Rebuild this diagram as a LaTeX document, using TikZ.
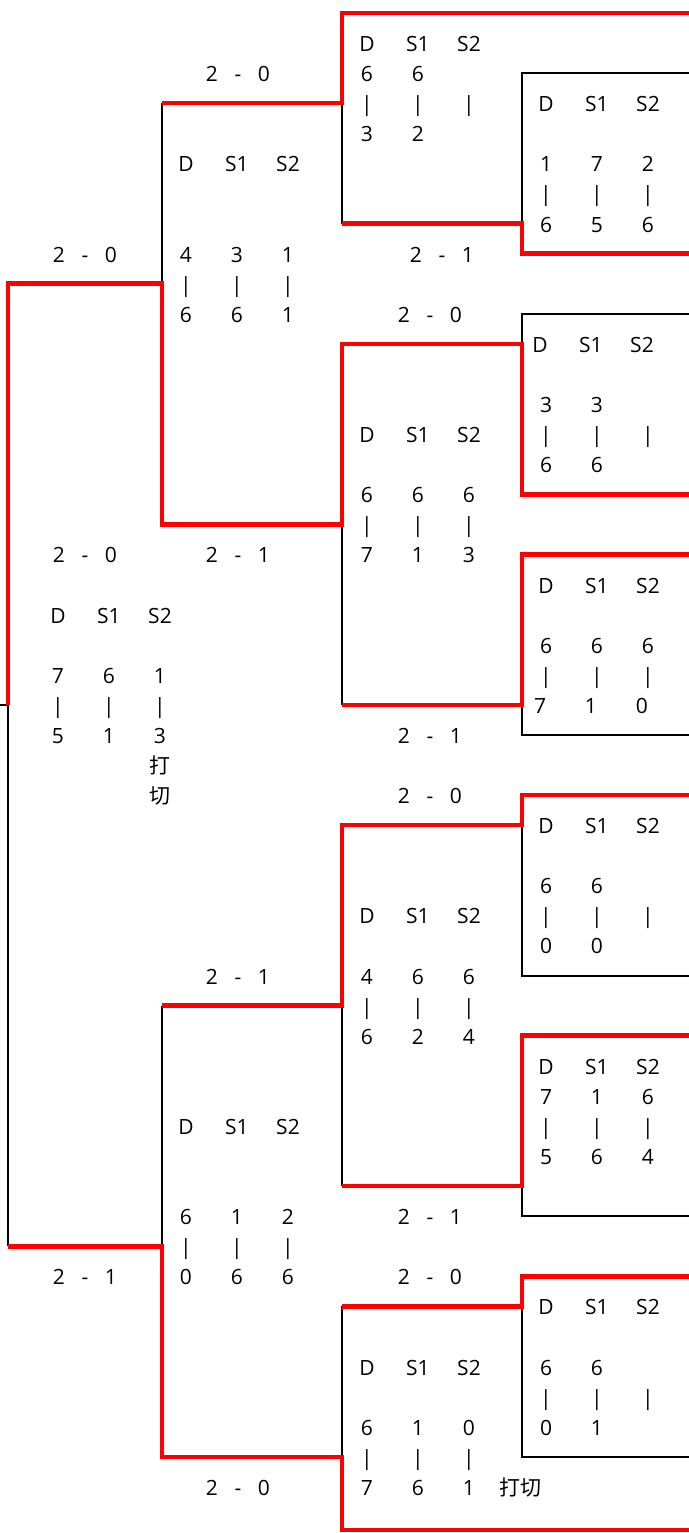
\documentclass[tikz,border=0pt]{standalone}
\usepackage{fontspec}
\setmainfont{Open Sans}
\newfontfamily\cjk{Noto Sans CJK SC}
\usepackage{xcolor}

\newcommand\trio[3]{\makebox[25.5pt]{#1}\makebox[25.5pt]{#2}\makebox[25.5pt]{#3}}
\newcommand\score[2]{\makebox[13pt]{#1}\makebox[13pt]{-}\makebox[13pt]{#2}}

\tikzset{
  win/.style={draw=red, line width=2.25pt},
  lose/.style={draw=black, line width=1pt},
  cell/.style={inner sep=0pt, anchor=base, yshift=-4.25pt, font=\fontsize{10.5}{12}\selectfont},
}

\begin{document}
\begin{tikzpicture}[x=0.5pt, y=-15.04pt]
    \useasboundingbox (0,-0.4322) rectangle (689,50.532);
    \def\xa{8} \def\xb{162} \def\xc{342} \def\xd{522} \def\xe{689}

    % Bracket lines (black)
    \draw[lose] (0,23) -- (\xa,23) -- (\xa,41);
    \draw[lose] (\xb,3) -- (\xb,9);
    \draw[lose] (\xb,33) -- (\xb,41);
    \draw[lose] (\xc,3) -- (\xc,7);
    \draw[lose] (\xc,17) -- (\xc,23);
    \draw[lose] (\xc,33) -- (\xc,39);
    \draw[lose] (\xc,43) -- (\xc,48);
    \draw[lose] (\xe,2) -- (\xd,2) -- (\xd,7);
    \draw[lose] (\xe,10) -- (\xd,10) -- (\xd,11);
    \draw[lose] (\xd,23) -- (\xd,24) -- (\xe,24);
    \draw[lose] (\xd,27) -- (\xd,32) -- (\xe,32);
    \draw[lose] (\xd,39) -- (\xd,40) -- (\xe,40);
    \draw[lose] (\xd,43) -- (\xd,48) -- (\xe,48);

    % Bracket lines (red)
    \draw[win] (\xb,3) -- (\xc,3) -- (\xc,0) -- (\xe,0);
    \draw[win] (\xc,7) -- (\xd,7) -- (\xd,8) -- (\xe,8);
    \draw[win] (\xa,23) -- (\xa,9) -- (\xb,9) -- (\xb,17) -- (\xc,17) -- (\xc,11) -- (\xd,11) -- (\xd,16) -- (\xe,16);
    \draw[win] (\xc,23) -- (\xd,23) -- (\xd,18) -- (\xe,18);
    \draw[win] (\xb,33) -- (\xc,33) -- (\xc,27) -- (\xd,27) -- (\xd,26) -- (\xe,26);
    \draw[win] (\xc,39) -- (\xd,39) -- (\xd,34) -- (\xe,34);
    \draw[win] (\xa,41) -- (\xb,41) -- (\xb,48) -- (\xc,48) -- (\xc,50.43) -- (\xe,50.43);
    \draw[win] (\xc,43) -- (\xd,43) -- (\xd,42) -- (\xe,42);

    % Final
    \node[cell] (fin-w1) at (85,8) {\score{2}{0}};
    \node[cell] (fin-w2) at (85,18) {\score{2}{0}};
    \node[cell] (fin-hd) at (109,20) {\trio{D}{S1}{S2}};
    \node[cell] (fin-1) at (109,22) {\trio{7}{6}{1}};
    \node[cell] (fin-3) at (109,24) {\trio{5}{1}{3}};
    \node[cell] (fin-n1) at (160,25) {\cjk 打};
    \node[cell] (fin-n2) at (160,26) {\cjk 切};
    \node[cell] (fin-w3) at (85,42) {\score{2}{1}};

    % Semi finals
    \node[cell] (sa-w) at (238,2) {\score{2}{0}};
    \node[cell] (sa-hd) at (237,5) {\trio{D}{S1}{S2}};
    \node[cell] (sa-1) at (237,8) {\trio{4}{3}{1}};
    \node[cell] (sa-3) at (237,10) {\trio{6}{6}{1}};
    \node[cell] (sa-l) at (238,18) {\score{2}{1}};
    \node[cell] (sb-w) at (238,32) {\score{2}{1}};
    \node[cell] (sb-hd) at (237,37) {\trio{D}{S1}{S2}};
    \node[cell] (sb-1) at (237,40) {\trio{6}{1}{2}};
    \node[cell] (sb-3) at (237,42) {\trio{0}{6}{6}};
    \node[cell] (sb-l) at (238,49) {\score{2}{0}};

    % Quarter finals
    \node[cell] (qa-hd) at (418,1) {\trio{D}{S1}{S2}};
    \node[cell] (qa-1) at (418,2) {\trio{6}{6}{}};
    \node[cell] (qa-3) at (418,4) {\trio{3}{2}{}};
    \node[cell] (qa-l) at (442,8) {\score{2}{1}};
    \node[cell] (qb-w) at (430,10) {\score{2}{0}};
    \node[cell] (qb-hd) at (418,14) {\trio{D}{S1}{S2}};
    \node[cell] (qb-1) at (418,16) {\trio{6}{6}{6}};
    \node[cell] (qb-3) at (418,18) {\trio{7}{1}{3}};
    \node[cell] (qb-l) at (430,24) {\score{2}{1}};
    \node[cell] (qc-w) at (430,26) {\score{2}{0}};
    \node[cell] (qc-hd) at (418,30) {\trio{D}{S1}{S2}};
    \node[cell] (qc-1) at (418,32) {\trio{4}{6}{6}};
    \node[cell] (qc-3) at (418,34) {\trio{6}{2}{4}};
    \node[cell] (qc-l) at (430,40) {\score{2}{1}};
    \node[cell] (qd-w) at (430,42) {\score{2}{0}};
    \node[cell] (qd-hd) at (418,45) {\trio{D}{S1}{S2}};
    \node[cell] (qd-1) at (418,47) {\trio{6}{1}{0}};
    \node[cell] (qd-3) at (418,49) {\trio{7}{6}{1}};
    \node[cell] (qd-n) at (520,49) {\cjk 打切};

    % First round
    \node[cell] (ra-hd) at (597,3) {\trio{D}{S1}{S2}};
    \node[cell] (ra-1) at (597,5) {\trio{1}{7}{2}};
    \node[cell] (ra-3) at (597,7) {\trio{6}{5}{6}};
    \node[cell] (rb-hd) at (591,11) {\trio{D}{S1}{S2}};
    \node[cell] (rb-1) at (597,13) {\trio{3}{3}{}};
    \node[cell] (rb-3) at (597,15) {\trio{6}{6}{}};
    \node[cell] (rc-hd) at (597,19) {\trio{D}{S1}{S2}};
    \node[cell] (rc-1) at (597,21) {\trio{6}{6}{6}};
    \node[cell] (rc-3) at (591,23) {\trio{7}{1}{0}};
    \node[cell] (rd-hd) at (597,27) {\trio{D}{S1}{S2}};
    \node[cell] (rd-1) at (597,29) {\trio{6}{6}{}};
    \node[cell] (rd-3) at (597,31) {\trio{0}{0}{}};
    \node[cell] (re-hd) at (597,35) {\trio{D}{S1}{S2}};
    \node[cell] (re-1) at (597,36) {\trio{7}{1}{6}};
    \node[cell] (re-3) at (597,38) {\trio{5}{6}{4}};
    \node[cell] (rf-hd) at (597,43) {\trio{D}{S1}{S2}};
    \node[cell] (rf-1) at (597,45) {\trio{6}{6}{}};
    \node[cell] (rf-3) at (597,47) {\trio{0}{1}{}};

    % Bars between the games
    \foreach \x/\r in {109/23, 237/9, 237/41, 418/3, 418/17, 418/33, 418/48,
                       597/6, 597/14, 597/22, 597/30, 597/37, 597/46}
        \node[cell] (bar-\x-\r) at (\x,\r) {\trio{|}{|}{|}};
\end{tikzpicture}
\end{document}
